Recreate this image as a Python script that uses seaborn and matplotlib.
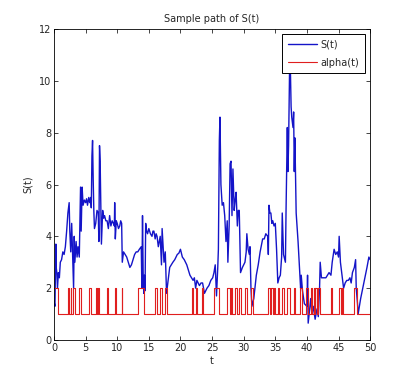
import numpy as np
import pandas as pd
import matplotlib
matplotlib.use('Agg')
import matplotlib.pyplot as plt
import seaborn as sns

# sample path of S(t)
s_t = [0.0, 0.15, 0.3, 0.35, 0.45, 0.55, 0.7, 0.85, 1.0, 1.2, 1.4, 1.6, 1.8, 2.0, 2.2, 2.4, 2.5,
       2.65, 2.8, 2.95, 3.1, 3.2, 3.3, 3.5, 3.65, 3.8, 4.0, 4.2, 4.3, 4.45, 4.6, 4.8, 5.0, 5.15,
       5.3, 5.5, 5.65, 5.8, 5.9, 6.0, 6.1, 6.2, 6.3, 6.4, 6.6, 6.8, 7.0, 7.1, 7.2, 7.3, 7.4, 7.5,
       7.7, 7.85, 8.0, 8.2, 8.4, 8.6, 8.8, 9.0, 9.2, 9.4, 9.55, 9.6, 9.7, 9.85, 10.0, 10.2, 10.4,
       10.55, 10.7, 10.8, 11.0, 11.25, 11.5, 11.75, 12.0, 12.25, 12.5, 12.75, 13.0, 13.25, 13.5,
       13.8, 13.9, 14.0, 14.1, 14.2, 14.3, 14.4, 14.5, 14.65, 14.8, 15.0, 15.25, 15.5, 15.65,
       15.8, 16.0, 16.15, 16.3, 16.5, 16.8, 17.0, 17.1, 17.4, 17.6, 17.8, 18.0, 18.3, 18.55,
       18.8, 19.1, 19.5, 19.75, 20.0, 20.3, 20.6, 21.0, 21.25, 21.5, 21.75, 22.0, 22.2, 22.4,
       22.6, 22.8, 23.0, 23.25, 23.5, 23.8, 24.2, 24.5, 24.8, 25.1, 25.3, 25.5, 25.7, 25.9,
       26.0, 26.15, 26.25, 26.4, 26.6, 26.8, 27.0, 27.2, 27.4, 27.5, 27.7, 27.85, 28.0, 28.15,
       28.3, 28.5, 28.65, 28.8, 29.0, 29.15, 29.3, 29.5, 29.8, 30.0, 30.2, 30.4, 30.5, 30.7,
       30.9, 31.0, 31.15, 31.3, 31.6, 32.0, 32.3, 32.6, 33.0, 33.25, 33.5, 33.8, 33.9, 34.0,
       34.15, 34.3, 34.45, 34.6, 34.8, 35.0, 35.2, 35.4, 35.6, 35.8, 36.0, 36.1, 36.3, 36.6,
       36.7, 36.9, 37.0, 37.1, 37.25, 37.35, 37.5, 37.6, 37.8, 37.9, 38.0, 38.1, 38.3, 38.6,
       39.0, 39.1, 39.3, 39.6, 40.0, 40.1, 40.2, 40.4, 40.6, 40.8, 41.0, 41.3, 41.6, 41.8, 42.0,
       42.1, 42.3, 42.6, 43.0, 43.25, 43.5, 43.8, 44.0, 44.3, 44.55, 44.8, 45.0, 45.1, 45.3,
       45.5, 45.8, 46.05, 46.3, 46.55, 46.8, 47.0, 47.2, 47.5, 47.7, 47.8, 48.0, 48.1, 48.3,
       48.5, 48.75, 49.0, 49.25, 49.5, 49.8, 50.0]
s_val = [1.5, 1.3, 3.7, 2.8, 2.6, 2.0, 2.6, 2.4, 3.0, 3.1, 3.4, 3.3, 3.6, 4.2, 4.9, 5.3, 4.2,
         3.4, 4.5, 3.3, 2.0, 4.0, 3.0, 3.8, 3.2, 3.6, 3.2, 5.9, 4.2, 5.9, 5.2, 5.4, 5.3, 5.45,
         5.2, 5.5, 5.3, 5.5, 5.1, 7.1, 7.7, 6.2, 5.0, 4.3, 4.5, 5.0, 4.9, 3.8, 7.5, 6.9, 5.3, 3.7,
         5.0, 4.7, 4.8, 4.6, 4.6, 4.3, 4.8, 4.4, 4.6, 4.5, 4.4, 5.3, 3.9, 4.6, 4.5, 4.3, 4.4,
         4.6, 4.5, 3.0, 3.4, 3.3, 3.2, 3.0, 2.8, 2.9, 3.1, 3.3, 3.4, 3.4, 3.5,
         3.6, 2.0, 4.8, 2.6, 1.8, 2.5, 1.9, 4.5, 4.2, 4.1, 4.3, 4.1, 4.0, 4.2,
         4.2, 3.9, 4.1, 4.0, 3.6, 4.0, 2.9, 4.3, 3.0, 3.4, 1.8, 2.2, 2.8, 2.9,
         3.0, 3.1, 3.3, 3.35, 3.5, 3.2, 3.1, 2.9, 2.7, 2.5, 2.4, 2.3, 2.4, 2.0,
         2.3, 2.2, 2.1, 2.2, 2.2, 1.8, 2.0, 2.1, 2.3, 2.4, 2.6, 2.9, 1.7, 2.8,
         3.5, 7.7, 8.6, 6.0, 5.2, 5.3, 4.8, 3.8, 4.6, 3.0, 4.4, 6.8, 6.9, 4.8,
         6.6, 5.0, 5.4, 5.7, 4.4, 5.0, 5.0, 2.6, 2.8, 2.9, 3.0, 3.4, 4.1, 3.5,
         3.3, 3.6, 2.0, 1.3, 1.6, 2.5, 2.9, 3.4, 3.9, 3.9, 4.1, 4.0, 3.3, 5.2,
         4.9, 4.9, 4.5, 4.6, 4.4, 4.5, 3.5, 2.2, 2.4, 2.5, 3.2, 4.9, 3.3, 3.0,
         5.0, 8.2, 6.5, 7.5, 10.3, 10.9, 9.0, 8.6, 8.2, 8.8, 6.5, 7.8, 4.9, 3.8,
         2.0, 2.5, 1.9, 1.4, 1.3, 2.5, 0.65, 1.1, 1.6, 1.0, 1.3, 0.8, 1.2, 0.9, 2.0,
         3.0, 2.4, 2.4, 2.4, 2.5, 2.6, 2.5, 3.0, 3.5, 3.3, 3.4, 3.2, 4.0, 3.0,
         2.6, 2.0, 2.2, 2.3, 2.3, 2.4, 2.2, 2.6, 2.8, 3.1, 2.0, 1.4, 1.0, 1.3,
         1.6, 1.9, 2.2, 2.5, 2.8, 3.2, 3.1]

# switching times of alpha(t) and the level it takes from each time on
alpha_t = [0.0, 0.69, 2.16, 2.43, 2.64, 2.74, 2.95, 3.32, 3.90, 4.27, 5.59, 5.80, 6.65, 6.75,
           6.91, 7.17, 8.44, 8.60, 9.65, 9.76, 10.71, 10.81, 13.29, 14.24, 16.03, 16.24,
           16.82, 17.14, 17.51, 17.88, 21.84, 22.05, 22.42, 22.63, 23.47, 23.63, 25.26, 26.05,
           27.32, 27.85, 28.06, 28.22, 28.69, 28.90, 29.27, 29.54, 30.22, 30.59, 31.12, 31.43,
           33.91, 34.18, 34.34, 34.60, 34.81, 35.02, 35.39, 35.65, 36.08, 36.39, 36.92, 37.34,
           37.97, 38.13, 38.98, 39.19, 39.87, 40.19, 40.66, 40.88, 41.09, 41.24, 41.35, 41.56,
           41.72, 42.09, 43.88, 44.04, 45.10, 45.36, 45.57, 45.73, 47.47, 47.89, 50.0]
alpha_val = [2, 1] * 42 + [1]

df_s = pd.DataFrame({'t': s_t, 'S': s_val})
df_a = pd.DataFrame({'t': alpha_t, 'alpha': alpha_val})

sns.set_style('white')
plt.rcParams['font.family'] = ['DejaVu Sans']

fig = plt.figure(figsize=(4.09, 3.82), dpi=100)
ax = fig.add_axes([0.132, 0.110, 0.773, 0.814])

sns.lineplot(x='t', y='S', data=df_s, color='#1414c8', linewidth=1.0, estimator=None, ax=ax)
sns.lineplot(x='t', y='alpha', data=df_a, color='#e01e1e', linewidth=0.8, estimator=None,
             drawstyle='steps-post', ax=ax)

ax.set_xlim(0, 50)
ax.set_ylim(0, 12)
ax.set_xticks(range(0, 51, 5))
ax.set_yticks(range(0, 13, 2))
ax.tick_params(direction='in', length=3, width=0.6, labelsize=7, top=True, right=True,
               bottom=True, left=True, pad=2)
for sp in ax.spines.values():
    sp.set_visible(True)
    sp.set_linewidth(0.6)
    sp.set_color('black')

ax.set_title('Sample path of S(t)', fontsize=7, pad=5)
ax.set_xlabel('t', fontsize=7, labelpad=2)
ax.set_ylabel('S(t)', fontsize=7, labelpad=4)

lines = ax.get_lines()
leg = ax.legend(lines[:2], ['S(t)', 'alpha(t)'], loc='upper right', fontsize=7, fancybox=False,
                framealpha=1, edgecolor='black', borderaxespad=0.5, handlelength=3.0,
                borderpad=0.6, labelspacing=0.8, handletextpad=0.4)
leg.get_frame().set_linewidth(0.7)

fig.savefig('out.png', dpi=100)
